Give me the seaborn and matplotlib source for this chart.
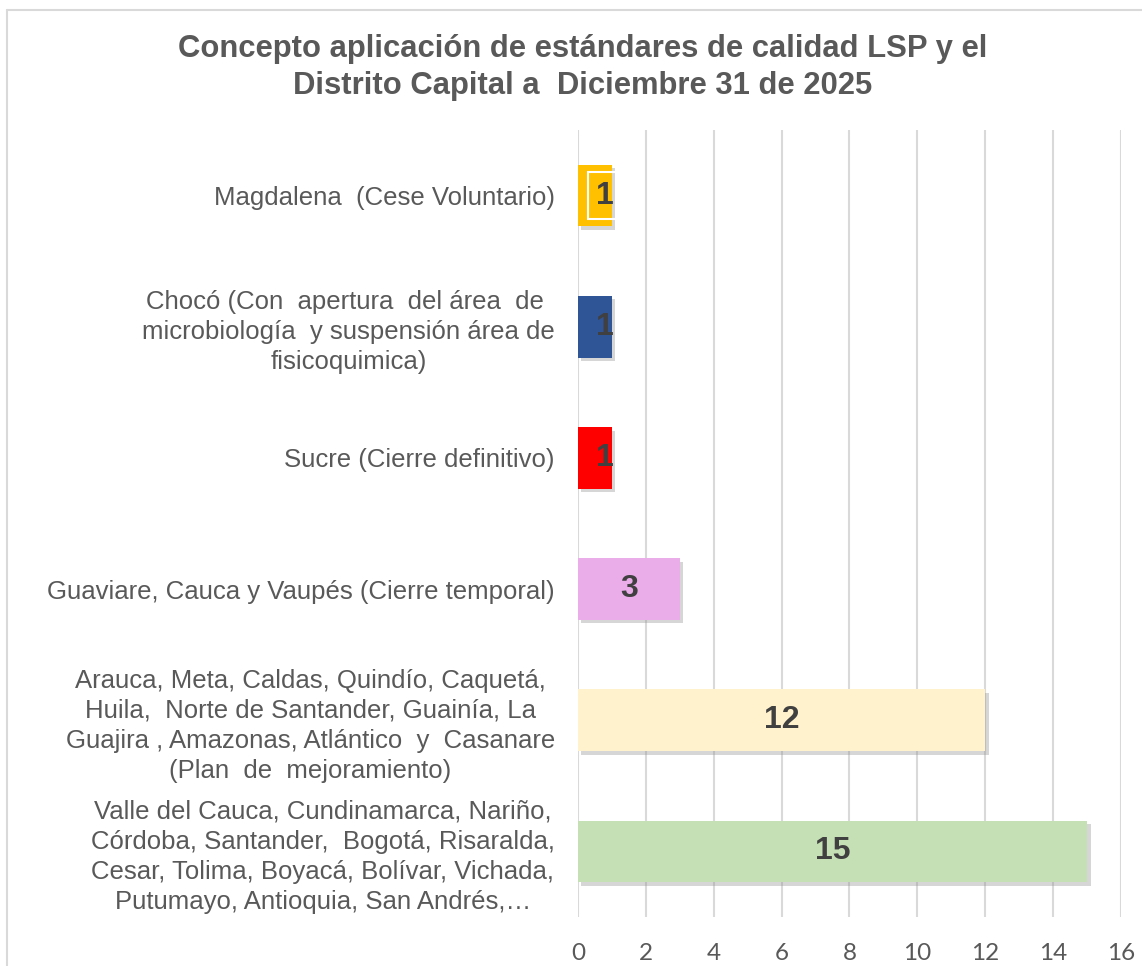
import matplotlib
matplotlib.use("Agg")
import matplotlib.pyplot as plt
import matplotlib.patheffects as pe
from matplotlib.lines import Line2D
import seaborn as sns
import pandas as pd

categorias = [
    "Magdalena  (Cese Voluntario)",
    "Chocó (Con  apertura  del área  de \nmicrobiología  y suspensión área de\nfisicoquimica)",
    "Sucre (Cierre definitivo)",
    "Guaviare, Cauca y Vaupés (Cierre temporal)",
    "Arauca, Meta, Caldas, Quindío, Caquetá,\nHuila,  Norte de Santander, Guainía, La\nGuajira , Amazonas, Atlántico  y  Casanare\n(Plan  de  mejoramiento)",
    "Valle del Cauca, Cundinamarca, Nariño,\nCórdoba, Santander,  Bogotá, Risaralda,\nCesar, Tolima, Boyacá, Bolívar, Vichada,\nPutumayo, Antioquia, San Andrés,…",
]
valores = [1, 1, 1, 3, 12, 15]
colores = ["#FFC000", "#2F5597", "#FF0000", "#EAADEA", "#FFF2CC", "#C5E0B4"]
ticks_x = [0, 2, 4, 6, 8, 10, 12, 14, 16]

df = pd.DataFrame({"categoria": categorias, "valor": valores})

sns.set_style("white")
plt.rcParams["font.family"] = ["Liberation Sans", "DejaVu Sans"]

fig = plt.figure(figsize=(11.42, 9.66), dpi=100)
ax = fig.add_axes([0.506, 0.0507, 0.4757, 0.8147])

sns.barplot(data=df, x="valor", y="categoria", hue="categoria", palette=colores,
            legend=False, width=0.47, saturation=1, linewidth=0, ax=ax, zorder=3)

for bar in ax.patches:
    bar.set_path_effects([pe.SimplePatchShadow(offset=(2.5, -2.5), shadow_rgbFace="#8C8C8C", alpha=0.35),
                          pe.Normal()])

for i, v in enumerate(valores):
    # small bars: excel puts the label near the bar end
    xpos = v / 2 if v > 1 else v * 0.8
    kw = {}
    if i == 0:
        kw["bbox"] = dict(facecolor="none", edgecolor="white", linewidth=1.5, pad=6)
    ax.text(xpos, i, str(v), ha="center", va="center", fontsize=23,
            fontweight="bold", color="#404040", zorder=5, **kw)

ax.set_xlim(0, 16)
ax.set_xticks(ticks_x)
ax.set_xticklabels([str(t) for t in ticks_x], family="Lato", fontsize=17.5, color="#595959")
ax.tick_params(axis="x", length=0, pad=19)
ax.tick_params(axis="y", length=0, pad=16.5, labelsize=18.5, labelcolor="#595959")
for lbl in ax.get_yticklabels():
    lbl.set_multialignment("center")
    lbl.set_linespacing(1.32)
ax.xaxis.grid(True, color="#D9D9D9", linewidth=1.5, zorder=0)
ax.set_axisbelow(True)
for s in ax.spines.values():
    s.set_visible(False)
ax.set_xlabel("")
ax.set_ylabel("")

fig.text(0.51, 0.930, "Concepto aplicación de estándares de calidad LSP y el\nDistrito Capital a  Diciembre 31 de 2025",
         ha="center", va="center", fontsize=22.3, fontweight="bold", color="#595959", linespacing=1.3)

# chart area border (cut off on the right and bottom)
fig.add_artist(Line2D([7 / 1142, 1.0], [1 - 10 / 966, 1 - 10 / 966], color="#D9D9D9", linewidth=1.5))
fig.add_artist(Line2D([7 / 1142, 7 / 1142], [0.0, 1 - 10 / 966], color="#D9D9D9", linewidth=1.5))

fig.savefig("out.png", dpi=100)
